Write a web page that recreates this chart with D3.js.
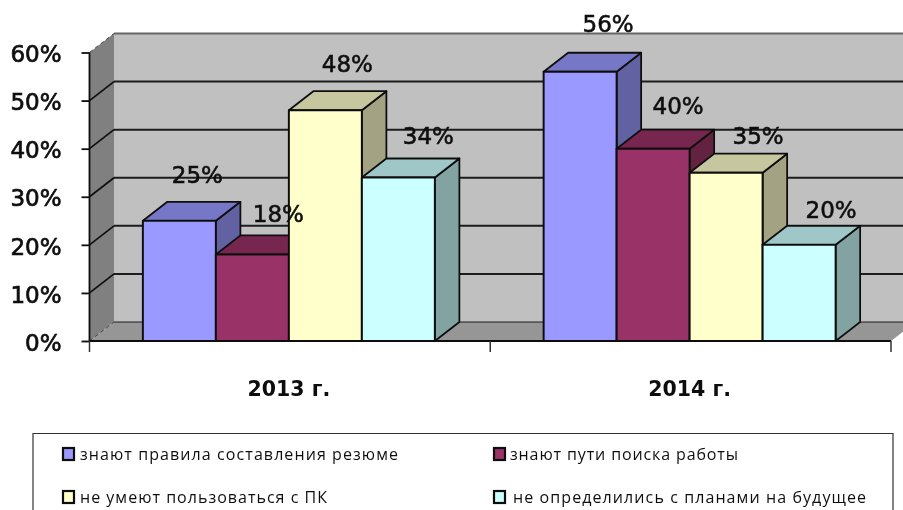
<!DOCTYPE html>
<html><head><meta charset="utf-8">
<script src="https://cdn.jsdelivr.net/npm/d3@7/dist/d3.min.js"></script>
<style>
html,body{margin:0;padding:0;background:#fff;overflow:hidden}
svg{display:block}
text{font-family:"DejaVu Sans",sans-serif;fill:#111}
</style></head><body>
<svg id="c" width="903" height="510"></svg>
<script>
const categories = ["2013 г.", "2014 г."];
const seriesNames = ["знают правила составления резюме","знают пути поиска работы","не умеют пользоваться с ПК","не определились с планами на будущее"];
const seriesColors = ["#9999FF","#993366","#FFFFCC","#CCFFFF"];
const values2013 = [25,18,48,34];
const values2014 = [56,40,35,20];
const yTicks = [0,10,20,30,40,50,60];

const labelNudge = [[[18,-46],[26,-41],[22,-46],[30,-42]],[[28,-48],[25,-43],[32,-37],[32,-35]]];
const legendCells = [[63,80,318,454],[494,510,228,454],[63,80,247,497],[494,513,353,497]];

const svg = d3.select("#c");
const defs = svg.append("defs");
defs.append("filter").attr("id","soft").append("feGaussianBlur").attr("stdDeviation",0.5);

const depthX = 24.5, depthY = 19;
const y = d3.scaleLinear().domain([0,60]).range([341,52.5]);
const x0 = d3.scaleBand().domain(categories).range([89.5,891]);
const barW = 73;
const x1 = d3.scaleBand().domain(d3.range(4)).range([-2*barW,2*barW]);
const dataRows = [values2013, values2014];

const chart = svg.append("g").attr("filter","url(#soft)");
const poly = (pts,fill,stroke,sw)=>chart.append("path")
  .attr("d",d3.line()(pts)+"Z").attr("fill",fill).attr("stroke",stroke||"none").attr("stroke-width",sw||0).attr("stroke-linejoin","round");

const L=x0.range()[0], R=x0.range()[1], B=y(0), T=y(60);
poly([[L+depthX,B-depthY],[903,B-depthY],[903,T-depthY],[L+depthX,T-depthY]],"#C0C0C0");
poly([[L,B],[L+depthX,B-depthY],[L+depthX,T-depthY],[L,T]],"#808080");
poly([[L,B],[R,B],[903,B-depthY*(903-R)/depthX],[903,B-depthY],[L+depthX,B-depthY]],"#969696");

chart.selectAll("line.grid").data(yTicks).join("line").attr("class","grid")
  .attr("x1",L+depthX).attr("x2",903).attr("y1",d=>y(d)-depthY).attr("y2",d=>y(d)-depthY)
  .attr("stroke",d=>d===60?"#666":"#1c1c1c").attr("stroke-width",d=>d===0?1.2:2);
chart.selectAll("line.side").data(yTicks).join("line").attr("class","side")
  .attr("x1",L).attr("x2",L+depthX).attr("y1",d=>y(d)).attr("y2",d=>y(d)-depthY)
  .attr("stroke",d=>(d===0||d===60)?"#444":"#111").attr("stroke-width",d=>(d===0||d===60)?1:1.7)
  .attr("stroke-dasharray",d=>(d===0||d===60)?"4 3":null);

// bars painted left to right
categories.forEach((cat,ci)=>{
  dataRows[ci].forEach((v,si)=>{
    const xl = x0(cat)+x0.bandwidth()/2+x1(si)-1, xr = xl+x1.bandwidth(), t=y(v), b=y(0);
    const c = d3.color(seriesColors[si]);
    poly([[xr,b],[xr+depthX,b-depthY],[xr+depthX,t-depthY],[xr,t]],c.darker(1.25).formatHex(),"#111",1.8);
    poly([[xl,t],[xl+depthX,t-depthY],[xr+depthX,t-depthY],[xr,t]],c.darker(0.7).formatHex(),"#111",1.8);
    poly([[xl,b],[xr,b],[xr,t],[xl,t]],seriesColors[si],"#111",2);
  });
});

// axes
const yAxis = chart.append("g").attr("transform",`translate(${L},0)`)
  .call(d3.axisLeft(y).tickValues(yTicks).tickFormat(d=>d+"%").tickSize(8).tickPadding(20));
yAxis.selectAll("text").style("font-family",'"DejaVu Sans"').style("font-size","23px").attr("dy","0.4em")
  .attr("fill","#111").attr("stroke","#111").attr("stroke-width",0.7);
yAxis.selectAll("line,path").attr("stroke","#111").attr("stroke-width",1.8);
yAxis.select(".domain").attr("d",`M${0},${y(60)}V${y(0)}`);

const xAxisBase = chart.append("g").attr("transform",`translate(0,${B})`);
xAxisBase.append("line").attr("x1",L).attr("x2",R).attr("stroke","#111").attr("stroke-width",1.8);
const xEdges = [x0(categories[0]), x0(categories[1]), x0(categories[1])+x0.bandwidth()];
xAxisBase.selectAll("line.t").data(xEdges).join("line").attr("class","t")
  .attr("x1",d=>d).attr("x2",d=>d).attr("y1",0).attr("y2",11).attr("stroke","#333").attr("stroke-width",1.5);
chart.selectAll("text.cat").data(categories).join("text").attr("class","cat")
  .attr("x",d=>x0(d)+x0.bandwidth()/2-1).attr("y",396).attr("text-anchor","middle")
  .style("font-weight","bold").style("font-size","20.5px").text(d=>d);

// value labels
categories.forEach((cat,ci)=>{
  dataRows[ci].forEach((v,si)=>{
    const xl = x0(cat)+x0.bandwidth()/2+x1(si)-1;
    chart.append("text").attr("x",xl+barW/2+labelNudge[ci][si][0]).attr("y",y(v)+labelNudge[ci][si][1])
      .attr("dy","0.36em").attr("text-anchor","middle").style("font-size","23px")
      .attr("stroke","#111").attr("stroke-width",0.6).text(v+"%");
  });
});

// legend
chart.append("path").attr("d","M33,510V433.5H893V510").attr("fill","#fff").attr("stroke","#333").attr("stroke-width",1.2);
seriesNames.forEach((s,i)=>{
  const [sx,tx,tw,ty]=legendCells[i];
  chart.append("rect").attr("x",sx).attr("y",ty-6).attr("width",11).attr("height",12)
    .attr("fill",seriesColors[i]).attr("stroke","#111").attr("stroke-width",2.2);
  chart.append("text").attr("x",tx).attr("y",ty).attr("dy","0.35em")
    .attr("textLength",tw).attr("lengthAdjust","spacing").style("font-family",'"Open Sans"').style("font-size","16px").text(s);
});
</script></body></html>
